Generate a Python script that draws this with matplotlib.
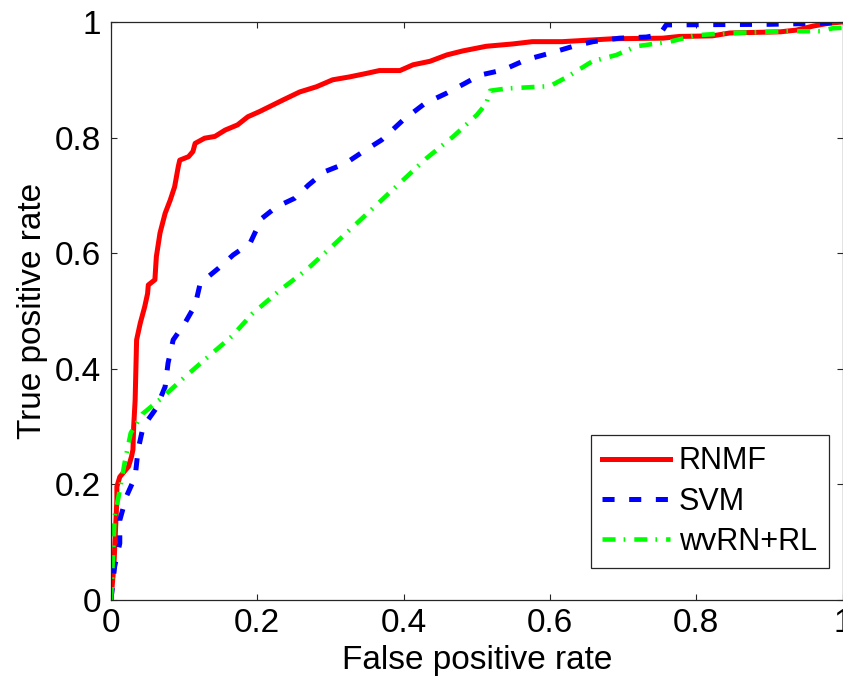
import matplotlib
matplotlib.use('Agg')
import matplotlib.pyplot as plt

plt.rcParams['font.family'] = ['Liberation Sans', 'DejaVu Sans']
plt.rcParams['lines.scale_dashes'] = False

# ROC curves (false positive rate, true positive rate)
rnmf_fpr = [0, 0.004, 0.008, 0.008, 0.012, 0.024, 0.028, 0.030, 0.031, 0.033, 0.035,
            0.040, 0.046, 0.050, 0.051, 0.060, 0.062, 0.067, 0.074, 0.081, 0.087,
            0.092, 0.094, 0.106, 0.112, 0.115, 0.128, 0.142, 0.156, 0.173, 0.187,
            0.203, 0.235, 0.258, 0.281, 0.303, 0.326, 0.349, 0.367, 0.395, 0.413,
            0.436, 0.459, 0.481, 0.513, 0.549, 0.576, 0.617, 0.686, 0.754, 0.777,
            0.822, 0.846, 0.915, 0.937, 0.960, 0.982, 1.0]
rnmf_tpr = [0, 0.060, 0.173, 0.196, 0.213, 0.231, 0.248, 0.260, 0.300, 0.346, 0.450,
            0.479, 0.507, 0.530, 0.545, 0.554, 0.594, 0.635, 0.669, 0.692, 0.715,
            0.750, 0.761, 0.767, 0.776, 0.790, 0.799, 0.802, 0.813, 0.822, 0.836,
            0.845, 0.865, 0.879, 0.888, 0.900, 0.905, 0.911, 0.916, 0.916, 0.926,
            0.932, 0.943, 0.950, 0.958, 0.962, 0.966, 0.966, 0.971, 0.972, 0.975,
            0.976, 0.981, 0.983, 0.986, 0.993, 0.998, 1.0]

svm_fpr = [0, 0.001, 0.005, 0.012, 0.012, 0.021, 0.033, 0.037, 0.044, 0.062, 0.074,
           0.078, 0.085, 0.101, 0.115, 0.122, 0.147, 0.167, 0.190, 0.206, 0.226,
           0.251, 0.270, 0.292, 0.320, 0.345, 0.370, 0.399, 0.429, 0.459, 0.484,
           0.504, 0.536, 0.568, 0.600, 0.632, 0.659, 0.695, 0.732, 0.750, 0.759,
           0.900, 0.980, 1.0]
svm_tpr = [0, 0.012, 0.058, 0.098, 0.138, 0.179, 0.213, 0.260, 0.300, 0.332, 0.369,
           0.410, 0.450, 0.479, 0.510, 0.548, 0.574, 0.597, 0.617, 0.660, 0.680,
           0.695, 0.718, 0.741, 0.755, 0.776, 0.796, 0.830, 0.859, 0.877, 0.894,
           0.908, 0.917, 0.935, 0.946, 0.958, 0.966, 0.972, 0.974, 0.978, 0.995,
           0.996, 0.998, 1.0]

wvrn_fpr = [0, 0.001, 0.003, 0.005, 0.012, 0.019, 0.027, 0.043, 0.068, 0.101, 0.133,
            0.165, 0.193, 0.231, 0.267, 0.299, 0.365, 0.431, 0.468, 0.500, 0.513,
            0.518, 0.541, 0.600, 0.625, 0.658, 0.691, 0.718, 0.764, 0.800, 0.846,
            0.930, 0.970, 0.986, 1.0]
wvrn_tpr = [0, 0.023, 0.087, 0.144, 0.190, 0.240, 0.289, 0.322, 0.348, 0.386, 0.421,
            0.456, 0.495, 0.536, 0.571, 0.608, 0.686, 0.764, 0.802, 0.839, 0.859,
            0.881, 0.885, 0.889, 0.906, 0.932, 0.943, 0.958, 0.966, 0.977, 0.981,
            0.984, 0.984, 0.989, 0.990]

ticks = [0, 0.2, 0.4, 0.6, 0.8, 1]
tick_labels = ['0', '0.2', '0.4', '0.6', '0.8', '1']

fig = plt.figure(figsize=(8.43, 6.79), dpi=100)
ax = fig.add_axes([111 / 843, 79 / 679, 731.5 / 843, 578 / 679])

ax.plot(rnmf_fpr, rnmf_tpr, color='#ff0000', linewidth=3.6, linestyle='-', label='RNMF')
ax.plot(svm_fpr, svm_tpr, color='#0000ff', linewidth=3.6, dashes=(8.7, 10.5),
        dash_capstyle='butt', label='SVM')
ax.plot(wvrn_fpr, wvrn_tpr, color='#00ff00', linewidth=3.3,
        dashes=(9.4, 5.8, 1.2, 6.5), dash_capstyle='butt', label='wvRN+RL')

ax.set_xlim(0, 1)
ax.set_ylim(0, 1)
ax.set_xticks(ticks)
ax.set_xticklabels(tick_labels)
ax.set_yticks(ticks)
ax.set_yticklabels(tick_labels)
ax.tick_params(direction='in', length=4.5, width=0.8, top=True, right=True,
               labelsize=24, color='#262626')
ax.tick_params(axis='x', pad=6)
ax.tick_params(axis='y', pad=7)
for s in ax.spines.values():
    s.set_linewidth(0.9)
    s.set_color('#262626')

ax.set_xlabel('False positive rate', fontsize=24, labelpad=4)
ax.set_ylabel('True positive rate', fontsize=24, labelpad=5)

leg = ax.legend(loc='lower right', bbox_to_anchor=(0.981, 0.055), borderaxespad=0,
                fontsize=22, handlelength=2.2, handletextpad=0.3, labelspacing=0.33,
                borderpad=0.38, fancybox=False, framealpha=1)
leg.get_frame().set_edgecolor('#262626')
leg.get_frame().set_linewidth(0.9)

fig.savefig('out.png', dpi=100)
